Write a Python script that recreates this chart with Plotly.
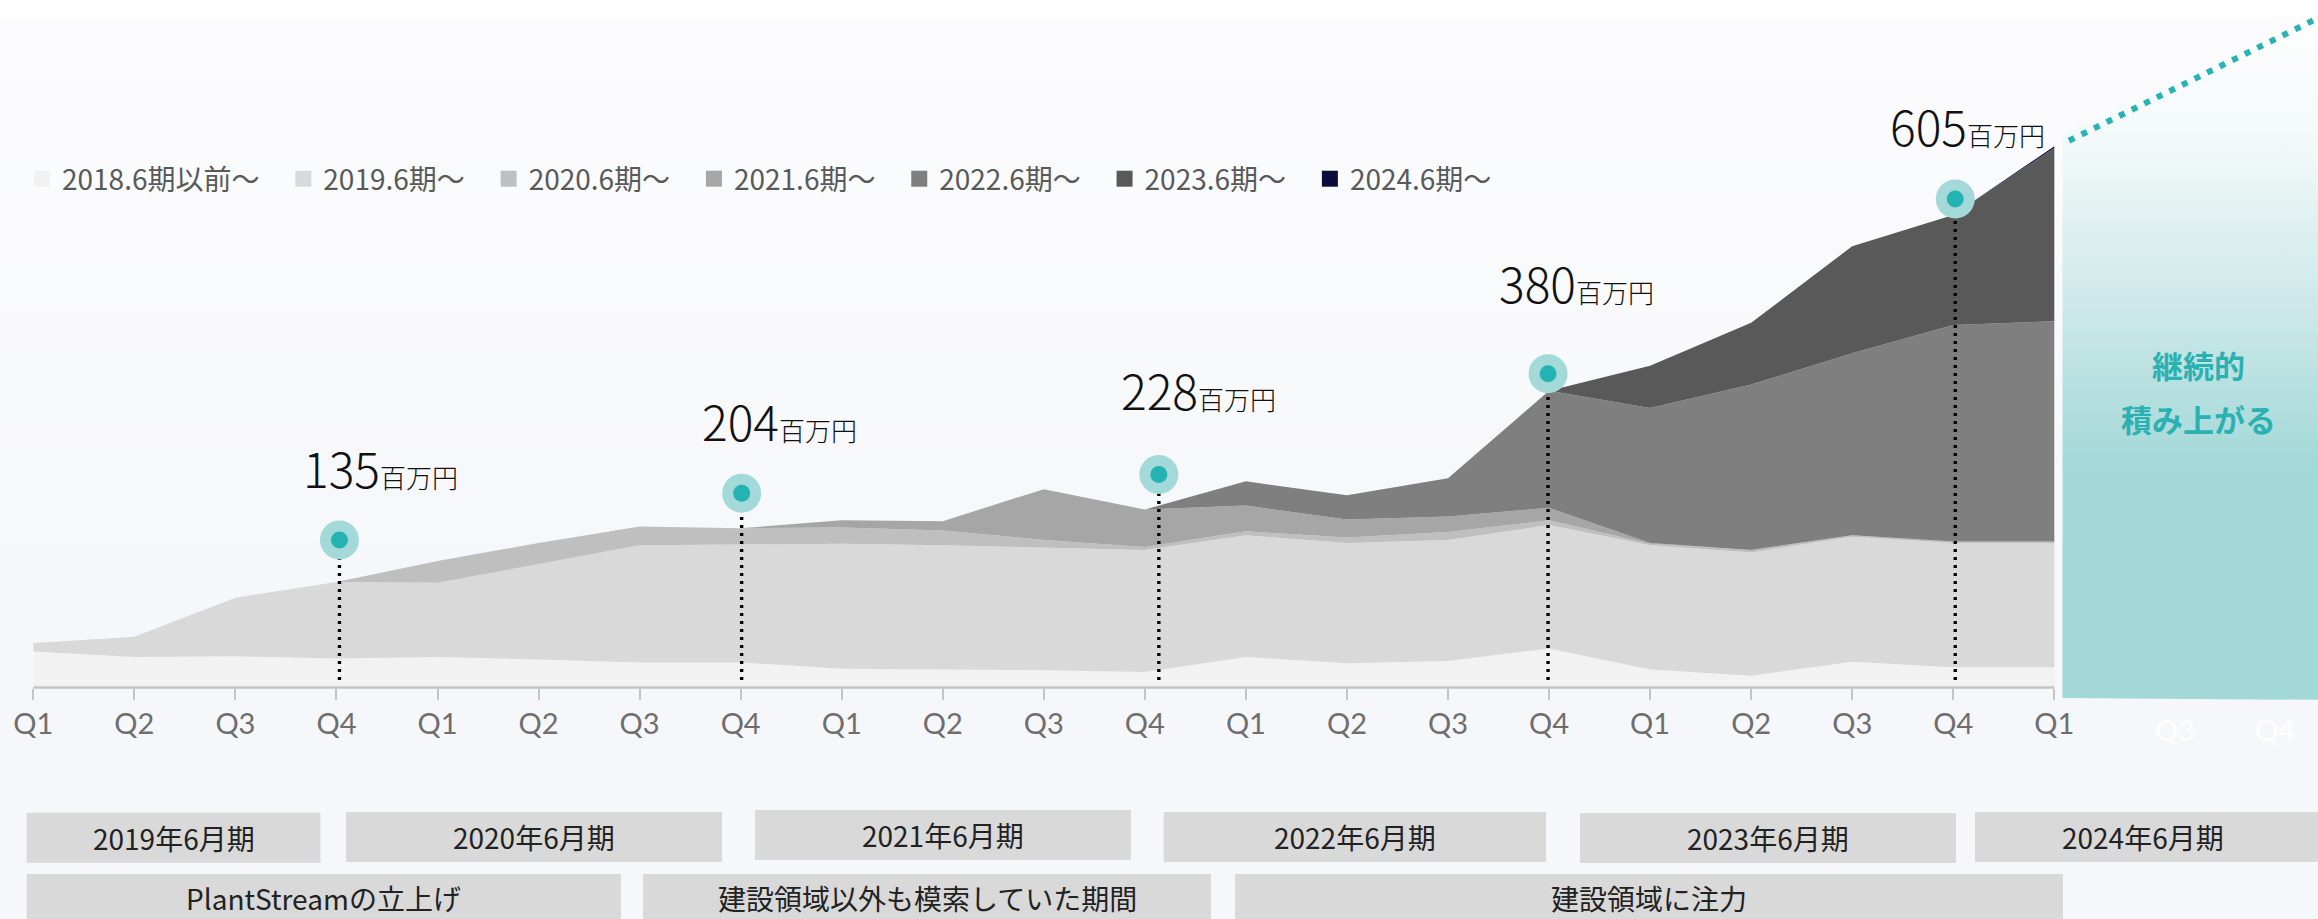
import plotly.graph_objects as go

W, H = 2318, 919

# ---------------- data ----------------
quarter_labels = ["Q1", "Q2", "Q3", "Q4"] * 5 + ["Q1"]
x_idx = list(range(len(quarter_labels)))

series_names = ["2018.6期以前～", "2019.6期～", "2020.6期～", "2021.6期～",
                "2022.6期～", "2023.6期～", "2024.6期～"]
s2018 = [46, 39, 40, 37, 39, 36, 32, 32, 24, 23, 22, 20, 39, 31, 34, 50, 23, 15, 33, 26, 26]
s2019 = [11, 26, 75, 98, 95, 122, 150, 151, 160, 159, 157, 156, 156, 154, 155, 158, 159, 158, 160, 159, 159]
s2020 = [0, 0, 0, 0, 28, 27, 24, 21, 21, 19, 10, 4, 5, 7, 10, 6, 2, 3, 2, 2, 2]
s2021 = [0, 0, 0, 0, 0, 0, 0, 0, 9, 12, 65, 48, 33, 23, 20, 16, 1, 0, 0, 0, 0]
s2022 = [0] * 12 + [31, 31, 49, 150, 173, 212, 233, 277, 282]
s2023 = [0] * 16 + [54, 79, 137, 141, 222]
s2024 = [0] * 20 + [2]
series_values = [s2018, s2019, s2020, s2021, s2022, s2023, s2024]
series_colors = ["#f2f2f2", "#d9d9d9", "#bfbfbf", "#a6a6a6", "#7f7f7f", "#595959", "#0c0c3c"]

milestone_idx = [3, 7, 11, 15, 19]
milestone_vals = [135, 204, 228, 380, 605]
milestone_unit = "百万円"

fy_labels = ["2019年6月期", "2020年6月期", "2021年6月期", "2022年6月期", "2023年6月期", "2024年6月期"]
phase_labels = ["PlantStreamの立上げ", "建設領域以外も模索していた期間", "建設領域に注力"]
future_text = ["継続的", "積み上がる"]
ghost_ticks = ["Q3", "Q4"]

# ---------------- geometry (layout / style) ----------------
PLOT_H = 702                    # plot area height in px (top margin 0)
BASE_PX = 687.5                 # pixel row of value 0
PX_PER_X = 101.05               # px per quarter
X0_PX = 33.3                    # px of first quarter
PX_PER_Y = 0.781                # px per 百万円

x_range = [(0 - X0_PX) / PX_PER_X, (W - X0_PX) / PX_PER_X]
y_range = [(BASE_PX - PLOT_H) / PX_PER_Y, BASE_PX / PX_PER_Y]


def px_x(px):
    return (px - X0_PX) / PX_PER_X


def px_y(py):
    return (BASE_PX - py) / PX_PER_Y


def pap_x(px):
    return px / W


def pap_y(py):
    return (PLOT_H - py) / PLOT_H


fig = go.Figure()

# stacked areas
for name, vals, col in zip(series_names, series_values, series_colors):
    fig.add_trace(go.Scatter(
        x=x_idx, y=vals, name=name, stackgroup="rev", mode="lines",
        line=dict(width=0, color=col), fillcolor=col, showlegend=False,
        hoverinfo="skip"))

# legend proxies (square swatches)
for name, col in zip(series_names, series_colors):
    fig.add_trace(go.Scatter(
        x=[None], y=[None], mode="markers", name=name + "\u00a0" * 3,
        marker=dict(symbol="square", size=16, color=col), showlegend=True))

# future teal box (gradient)
fig.add_trace(go.Scatter(
    x=[px_x(2062.5), px_x(W + 20), px_x(W + 20), px_x(2062.5)],
    y=[px_y(698), px_y(700), px_y(4), px_y(133)],
    mode="lines", fill="toself", line=dict(width=0), showlegend=False,
    hoverinfo="skip",
    fillgradient=dict(type="vertical", start=px_y(698), stop=px_y(10),
                      colorscale=[[0, "#a2d8d8"], [0.33, "#a2d8d8"], [0.58, "#cfe9e9"],
                                  [0.81, "#f3f9f9"], [1, "#ffffff"]])))

# teal dotted trend line
fig.add_trace(go.Scatter(
    x=[px_x(2069), px_x(W + 10)], y=[px_y(140.7), px_y(140.7 - 0.4926 * (W + 10 - 2069))],
    mode="lines", line=dict(color="#26b3b3", width=6, dash="6px,8px"),
    showlegend=False, hoverinfo="skip"))

# milestone markers, dotted drop lines and labels
x_off_px = [3, 1, 14, -1, 2]
lift_px = [42, 35, 35, 17, 16]
label_dx = [-38, -42, -40, -51, -67]
label_dy = [51, 51, 63, 70, 52]
for i, v, xo, lf, dx, dy in zip(milestone_idx, milestone_vals, x_off_px, lift_px, label_dx, label_dy):
    xm = i + xo / PX_PER_X
    ym = v + lf / PX_PER_Y
    fig.add_trace(go.Scatter(
        x=[xm, xm], y=[px_y(680), ym], mode="lines",
        line=dict(color="#000000", width=3.4, dash="3px,5px"),
        showlegend=False, hoverinfo="skip"))
    fig.add_trace(go.Scatter(
        x=[xm], y=[ym], mode="markers",
        marker=dict(size=39, color="#a3d9d9"), showlegend=False, hoverinfo="skip"))
    fig.add_trace(go.Scatter(
        x=[xm], y=[ym], mode="markers",
        marker=dict(size=17, color="#24b3b3"), showlegend=False, hoverinfo="skip"))
    fig.add_annotation(
        x=xm, y=ym, xref="x", yref="y", xanchor="left", yanchor="bottom",
        xshift=dx, yshift=dy - 15, showarrow=False,
        text=f"{v}<span style='font-size:26px'>{milestone_unit}</span>",
        font=dict(family="Noto Sans CJK JP", size=48, color="#111111", weight=300))

# baseline (axis line spanning the data only)
shapes = []
shapes.append(dict(type="line", xref="x", yref="y", x0=x_idx[0], x1=x_idx[-1], y0=0, y1=0,
                   line=dict(color="#c4c4c4", width=2.5), layer="above"))

# background gradient strips
shapes.append(dict(type="rect", xref="paper", yref="paper", x0=0, x1=1,
                   y0=pap_y(0), y1=pap_y(17), fillcolor="#ffffff", line=dict(width=0), layer="below"))
n = 40
top_c, bot_c = (252, 252, 254), (246, 247, 250)
for k in range(n):
    a = 17 + (600 - 17) * k / n
    b = 17 + (600 - 17) * (k + 1) / n
    t = k / (n - 1)
    c = tuple(round(top_c[j] + (bot_c[j] - top_c[j]) * t) for j in range(3))
    shapes.append(dict(type="rect", xref="paper", yref="paper", x0=0, x1=1,
                       y0=pap_y(a), y1=pap_y(b + 1), fillcolor="rgb(%d,%d,%d)" % c,
                       line=dict(width=0), layer="below"))

# fiscal year boxes and phase boxes
fy_boxes = [(26.6, 320.4, 812.7, 862.7), (346, 722, 812, 862), (755, 1131, 810, 860),
            (1163.7, 1546, 812, 862), (1580, 1956, 813, 863), (1975, 2330, 812, 862)]
phase_boxes = [(26.6, 621, 874, 930), (643, 1211, 874, 930), (1235, 2063, 874, 930)]
box_font = dict(family="Noto Sans CJK JP", size=28, color="#222222")
for (x0, x1, y0, y1), lab in zip(fy_boxes, fy_labels):
    shapes.append(dict(type="rect", xref="paper", yref="paper", x0=pap_x(x0), x1=pap_x(x1),
                       y0=pap_y(y1), y1=pap_y(y0), fillcolor="#d9d9d9", line=dict(width=0)))
    cx = (x0 + x1) / 2 if x1 < W else (x0 + W) / 2 - 4
    fig.add_annotation(x=pap_x(cx), y=pap_y((y0 + y1) / 2), xref="paper", yref="paper",
                       text=lab, showarrow=False, font=box_font, xanchor="center", yanchor="middle")
for (x0, x1, y0, y1), lab in zip(phase_boxes, phase_labels):
    shapes.append(dict(type="rect", xref="paper", yref="paper", x0=pap_x(x0), x1=pap_x(x1),
                       y0=pap_y(y1), y1=pap_y(y0), fillcolor="#d9d9d9", line=dict(width=0)))
    fig.add_annotation(x=pap_x((x0 + x1) / 2), y=pap_y(898), xref="paper", yref="paper",
                       text=lab, showarrow=False, font=box_font, xanchor="center", yanchor="middle")

# teal text in the future box
for txt, py in zip(future_text, [364, 418]):
    fig.add_annotation(x=px_x(2198), y=px_y(py), xref="x", yref="y", text=txt, showarrow=False,
                       font=dict(family="Noto Sans CJK JP", size=31, color="#2bb1b1", weight="bold"),
                       xanchor="center", yanchor="middle")

# ghost tick labels (white) beyond the data
for txt, px in zip(ghost_ticks, [2175, 2274.5]):
    fig.add_annotation(x=pap_x(px), y=pap_y(729), xref="paper", yref="paper", text=txt,
                       showarrow=False, font=dict(family="Lato, Noto Sans CJK JP", size=29, color="#ffffff"),
                       xanchor="center", yanchor="middle")

fig.update_layout(
    width=W, height=H,
    margin=dict(l=0, r=0, t=0, b=H - PLOT_H, pad=0, autoexpand=False),
    paper_bgcolor="#f6f7fa", plot_bgcolor="rgba(0,0,0,0)",
    shapes=shapes,
    showlegend=True,
    legend=dict(orientation="h", x=pap_x(22), y=pap_y(179), xanchor="left", yanchor="middle",
                bgcolor="rgba(0,0,0,0)", font=dict(family="Noto Sans CJK JP", size=28, color="#595959"),
                itemsizing="trace", traceorder="normal"),
    xaxis=dict(range=x_range, tickmode="array", tickvals=x_idx, ticktext=quarter_labels,
               anchor="free", position=pap_y(BASE_PX), showgrid=False, zeroline=False, showline=False,
               automargin=False,
               ticks="outside", ticklen=11, tickwidth=2, tickcolor="#c4c4c4",
               tickfont=dict(family="Lato, Noto Sans CJK JP", size=29, color="#6e6e6e"),
               fixedrange=True),
    yaxis=dict(range=y_range, visible=False, automargin=False, fixedrange=True),
    hovermode=False,
)

fig.write_html("out.html", config={"displayModeBar": False},
               post_script="document.body.style.margin='0px';document.body.style.overflow='hidden';")
